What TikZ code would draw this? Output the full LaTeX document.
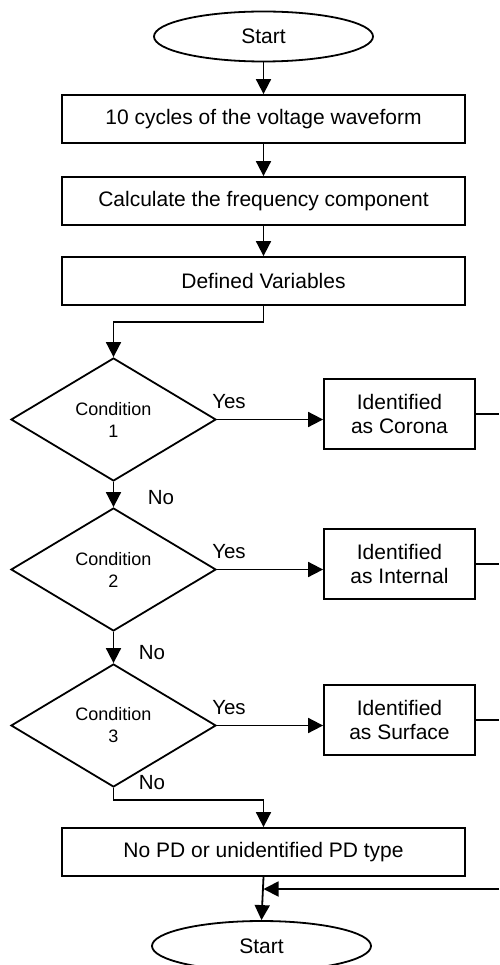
\documentclass[tikz,border=0pt]{standalone}
\usepackage{fontspec}
\setmainfont{Liberation Sans}
\usetikzlibrary{shapes, arrows.meta}

\tikzset{
    box/.style={draw, line width=1.8pt, minimum width=403pt, minimum height=48pt, inner sep=0pt, font=\fontsize{21}{25}\selectfont},
    term/.style={draw, ellipse, line width=1.8pt, minimum width=219pt, minimum height=50pt, inner sep=0pt, font=\fontsize{21}{25}\selectfont},
    cond/.style={draw, diamond, line width=1.8pt, minimum width=205pt, minimum height=123pt, inner sep=0pt, align=center, font=\fontsize{18}{22}\selectfont},
    idbox/.style={draw, line width=1.8pt, minimum width=151pt, minimum height=70pt, inner sep=0pt, align=center, font=\fontsize{21}{24}\selectfont},
    lbl/.style={inner sep=0pt, font=\fontsize{20.5}{24}\selectfont},
    ln/.style={line width=1.8pt},
    arr/.style={line width=1.8pt, -{Triangle[length=15pt,width=15pt]}}
}

\begin{document}
\begin{tikzpicture}[x=1pt, y=1pt]
        \useasboundingbox (0, 0) rectangle (499, -965);

        \node[term] (start) at (263.5, -36.5) {Start};
        \node[box] (cycles) at (263.5, -119) {10 cycles of the voltage waveform};
        \node[box] (freq) at (263.5, -201) {Calculate the frequency component};
        \node[box] (vars) at (263.5, -281) {Defined Variables};

        \node[cond] (cond1) at (113.5, -419.5) {Condition\\1};
        \node[cond] (cond2) at (113.5, -569.5) {Condition\\2};
        \node[cond] (cond3) at (113.5, -725.5) {Condition\\3};

        \node[idbox] (corona) at (399.5, -414) {Identified\\as Corona};
        \node[idbox] (internal) at (399.5, -564) {Identified\\as Internal};
        \node[idbox] (surface) at (399.5, -720) {Identified\\as Surface};

        \node[box] (nopd) at (263.5, -852) {No PD or unidentified PD type};
        \node[term] (stop) at (261.5, -946) {Start};

        \coordinate (edge) at (499, -889);

        % main line
        \draw[arr] (start) -- (cycles);
        \draw[arr] (cycles) -- (freq);
        \draw[arr] (freq) -- (vars);
        \draw[arr] (vars.south) -- ++(0, -16) -| (cond1.north);
        \draw[arr] (cond1.south) -- (cond2.north);
        \draw[arr] (cond2.south) -- (cond3.north);
        \draw[arr] (cond3.south) -- ++(0, -12) -| (nopd.north);
        \draw[arr] (nopd.south) -- (stop.north);

        % yes branches
        \draw[arr] (cond1.east) -- (cond1.east -| corona.west);
        \draw[arr] (cond2.east) -- (cond2.east -| internal.west);
        \draw[arr] (cond3.east) -- (cond3.east -| surface.west);
        \draw[ln] (corona.east) -- (corona.east -| edge);
        \draw[ln] (internal.east) -- (internal.east -| edge);
        \draw[ln] (surface.east) -- (surface.east -| edge);
        \draw[arr] (edge) -- (nopd.south |- edge);

        \node[lbl] (yes1) at (229, -402) {Yes};
        \node[lbl] (yes2) at (229, -552) {Yes};
        \node[lbl] (yes3) at (229, -708) {Yes};
        \node[lbl] (no1) at (161, -498) {No};
        \node[lbl] (no2) at (152, -653) {No};
        \node[lbl] (no3) at (152, -783) {No};
    \end{tikzpicture}
\end{document}
